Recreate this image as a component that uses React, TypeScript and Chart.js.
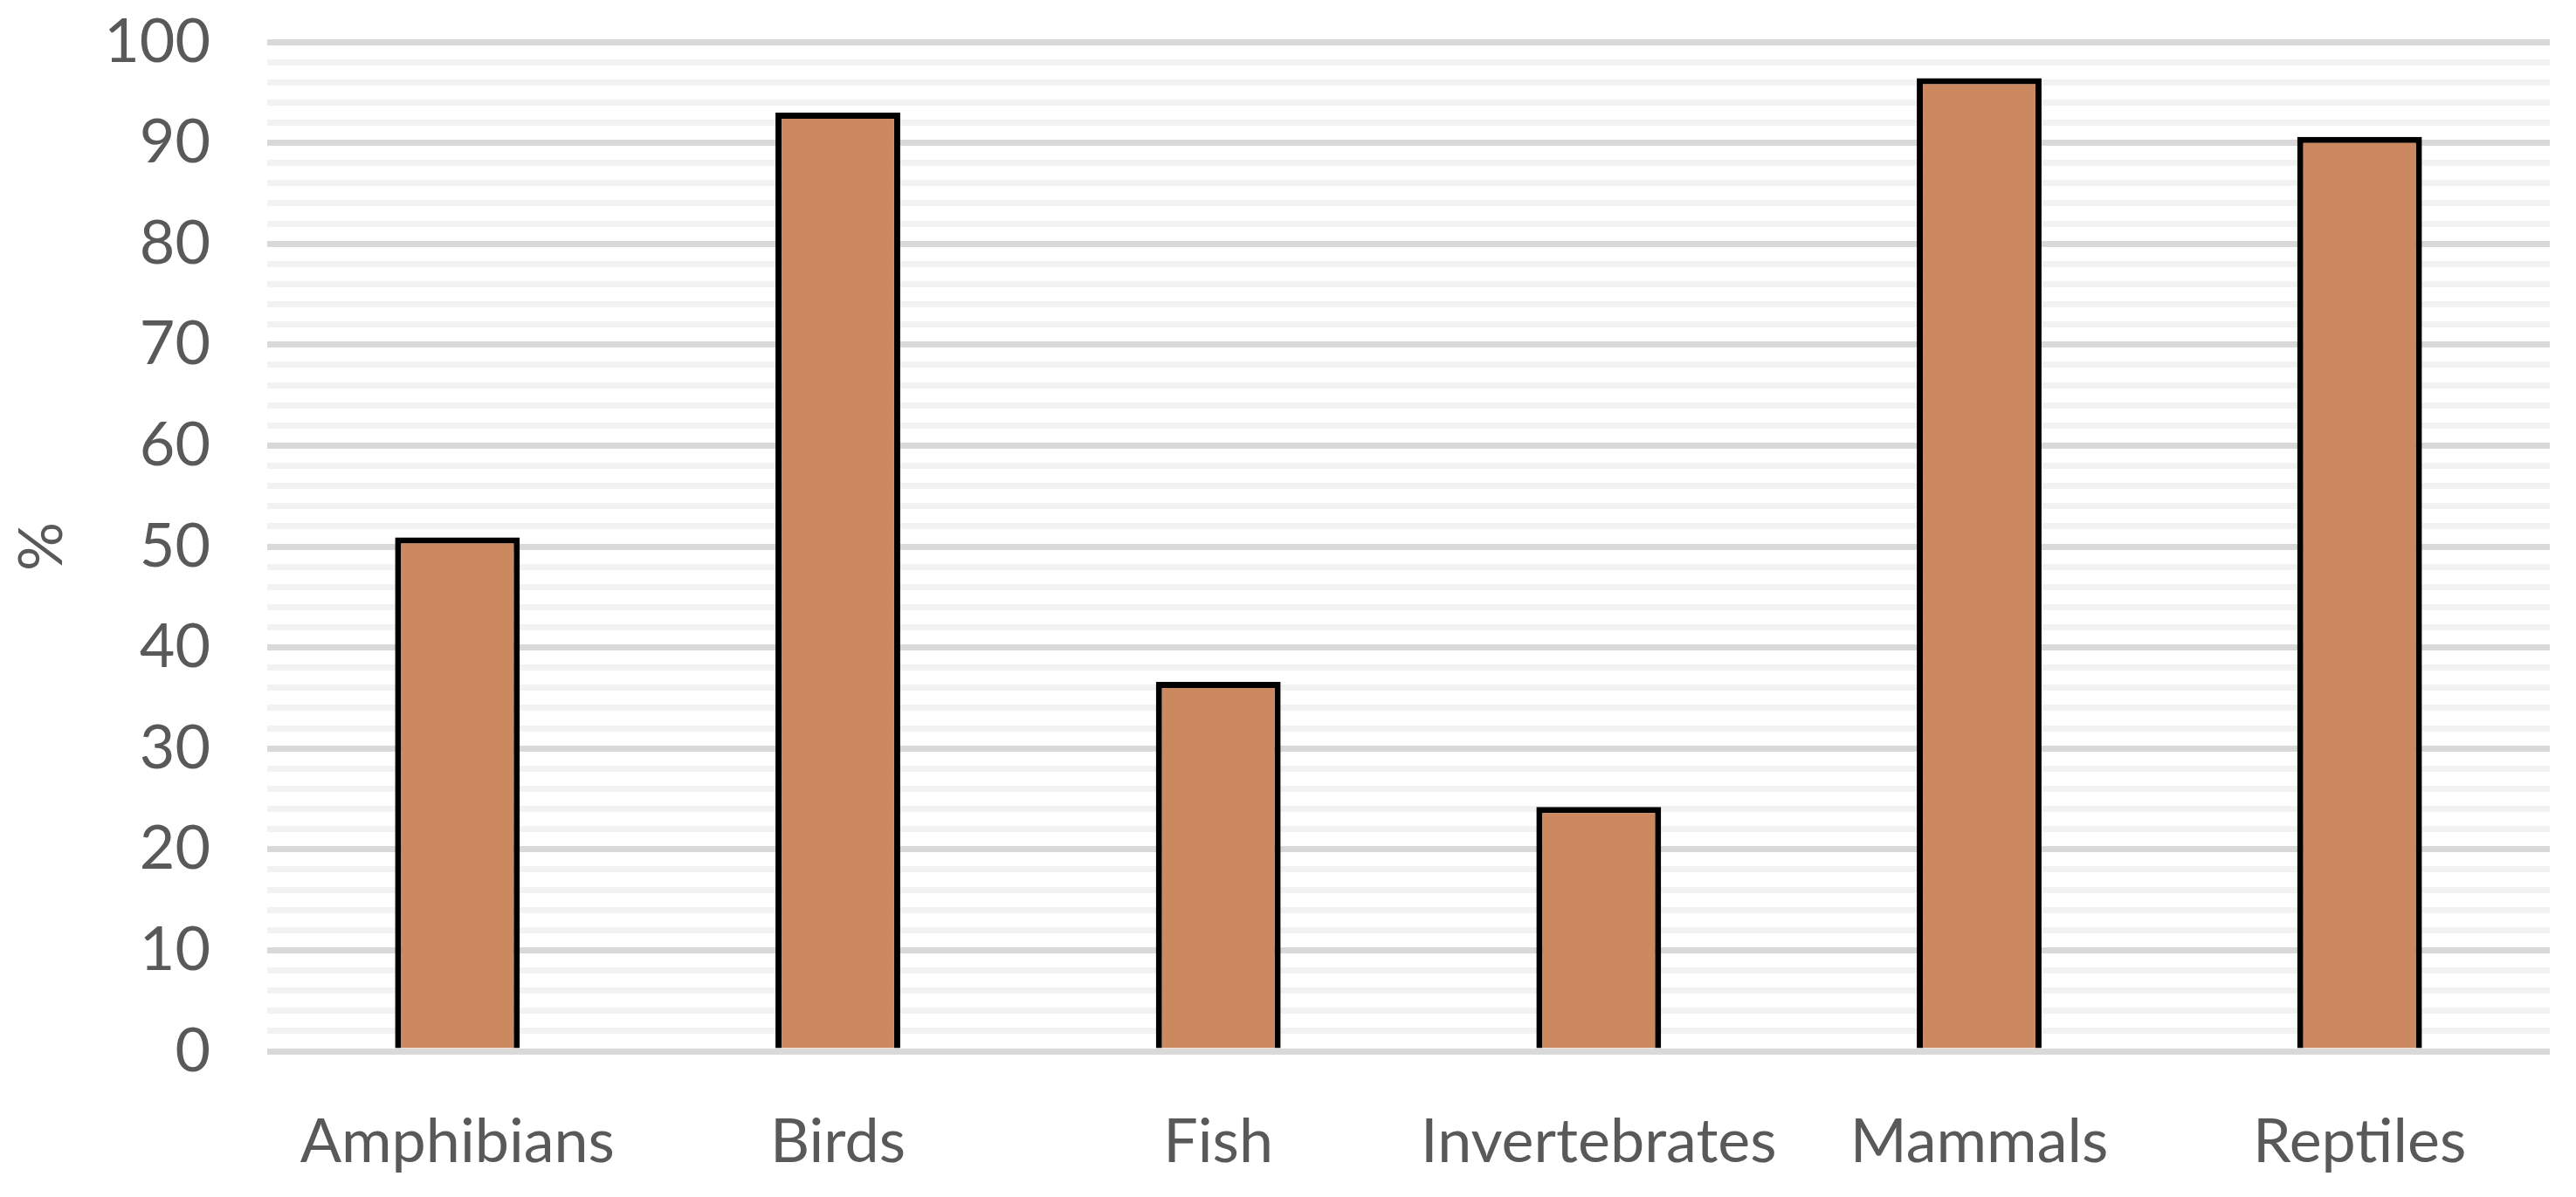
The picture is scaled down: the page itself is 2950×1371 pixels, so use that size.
import React, { useEffect, useRef } from 'react';
import { Chart, registerables } from 'chart.js';

Chart.register(...registerables);

const categories = ['Amphibians', 'Birds', 'Fish', 'Invertebrates', 'Mammals', 'Reptiles'];
const values = [50.9, 93.0, 36.6, 24.2, 96.4, 90.6];
const yMin = 0;
const yMax = 100;
const majorStep = 10;
const minorStep = 2;
const yTitle = '%';

const W = 2950;
const H = 1371;
const FONT = 'Lato';
const TEXT = '#595959';

export default function App() {
  const ref = useRef<HTMLCanvasElement | null>(null);

  useEffect(() => {
    if (!ref.current) return;
    const chart = new Chart(ref.current, {
      type: 'bar',
      data: {
        labels: categories,
        datasets: [
          {
            data: values,
            backgroundColor: '#CC885E',
            borderColor: '#000000',
            borderWidth: 7,
            borderSkipped: 'start',
            barPercentage: 0.328,
            categoryPercentage: 1,
          },
        ],
      },
      options: {
        responsive: false,
        animation: false,
        devicePixelRatio: 1,
        layout: { padding: { left: 0, right: 30, top: 48, bottom: 0 } },
        plugins: { legend: { display: false }, tooltip: { enabled: false }, title: { display: false } },
        scales: {
          x: {
            grid: { display: false },
            border: { display: false },
            ticks: {
              color: TEXT,
              font: { family: FONT, size: 70 },
              padding: 54,
              maxRotation: 0,
              autoSkip: false,
            },
            afterFit: (s: any) => {
              s.height = 167;
              s.paddingLeft = 0;
              s.paddingRight = 0;
            },
          },
          y: {
            min: yMin,
            max: yMax,
            border: { display: false },
            grid: {
              drawTicks: false,
              color: (ctx: any) => (ctx.tick && ctx.tick.value % majorStep === 0 ? '#D9D9D9' : '#F2F2F2'),
              lineWidth: 7,
            },
            ticks: {
              stepSize: minorStep,
              autoSkip: false,
              maxTicksLimit: 200,
              color: TEXT,
              font: { family: FONT, size: 70 },
              padding: 65,
              callback: (v: any) => (Number(v) % majorStep === 0 ? String(v) : ''),
            },
            title: {
              display: true,
              text: yTitle,
              color: TEXT,
              font: { family: FONT, size: 70 },
              padding: { top: 6, bottom: 0 },
            },
            afterFit: (s: any) => {
              s.width = 306;
              s.paddingTop = 0;
              s.paddingBottom = 0;
            },
          },
        },
      },
    });
    return () => chart.destroy();
  }, []);

  return (
    <div style={{ position: 'absolute', left: 0, top: 0, width: W, height: H, background: '#fff' }}>
      <canvas ref={ref} width={W} height={H} style={{ display: 'block', width: W, height: H }} />
    </div>
  );
}
